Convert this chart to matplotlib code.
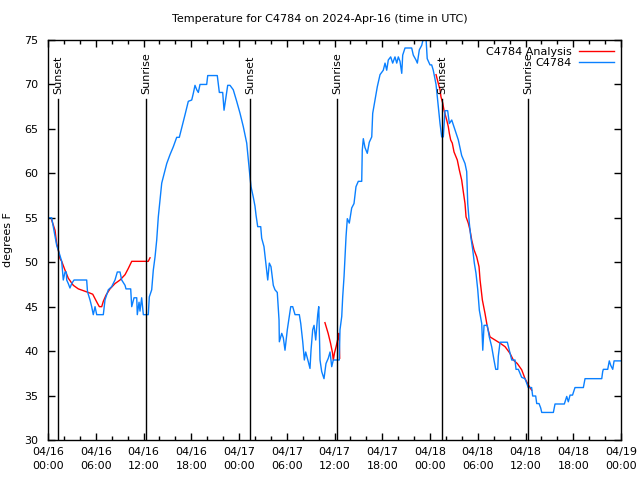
import matplotlib
matplotlib.use("Agg")
import matplotlib.pyplot as plt
from matplotlib.ticker import MultipleLocator

plt.rcParams['font.family'] = ['DejaVu Sans']

# ---- data (hours since 2024-04-16 00:00 UTC, degrees F) ----
obs_hours = [0.0, 0.46, 0.75, 1.09, 1.42, 1.72, 1.92, 2.14, 2.30, 2.35, 2.55, 2.76, 2.98, 3.27,
             4.86, 4.96, 5.28, 5.49, 5.69, 5.91, 6.12, 6.95, 7.16, 7.58, 8.0, 8.42, 8.71, 9.05,
             9.26, 9.68, 9.8, 10.39, 10.52, 10.81, 11.15, 11.22, 11.44, 11.56, 11.77, 11.98,
             12.6, 12.73, 13.03, 13.23, 13.45, 13.66, 13.86, 14.07, 14.29, 14.49, 14.92, 15.33,
             15.75, 16.17, 16.5, 16.8, 17.22, 17.63, 18.06, 18.26, 18.47, 18.69, 18.89, 19.1,
             19.94, 20.07, 21.27, 21.53, 21.95, 22.12, 22.37, 22.58, 22.87, 23.28, 23.71, 24.13,
             24.54, 24.97, 25.17, 25.38, 25.51, 25.8, 26.01, 26.14, 26.35, 26.73, 26.85, 27.14,
             27.31, 27.48, 27.61, 27.81, 28.02, 28.31, 28.52, 28.81, 29.03, 29.07, 29.37, 29.57,
             29.78, 30.07, 30.32, 30.5, 30.75, 31.04, 31.58, 31.76, 32.01, 32.21, 32.38, 32.71,
             32.92, 33.05, 33.26, 33.43, 33.64, 33.89, 34.02, 34.18, 34.39, 34.68, 34.93, 35.22,
             35.44, 35.65, 35.85, 36.6, 36.69, 36.91, 37.03, 37.2, 37.32, 37.45, 37.61, 37.86,
             38.16, 38.45, 38.7, 38.99, 39.42, 39.49, 39.62, 39.83, 40.12, 40.37, 40.68, 40.8,
             41.09, 41.38, 41.72, 42.13, 42.35, 42.56, 42.76, 43.06, 43.31, 43.6, 43.82, 44.02,
             44.23, 44.45, 44.57, 44.86, 45.7, 45.9, 46.24, 46.41, 46.66, 46.96, 47.25, 47.5,
             47.65, 48.0, 48.21, 48.41, 48.76, 49.05, 49.26, 49.47, 49.67, 49.89, 50.22, 50.43,
             50.73, 51.14, 51.56, 51.98, 52.4, 52.61, 52.74, 52.94, 53.12, 53.37, 53.57, 53.78,
             54.0, 54.2, 54.5, 54.63, 54.79, 55.2, 55.45, 55.75, 56.04, 56.26, 56.51, 56.58,
             56.8, 57.72, 57.97, 58.27, 58.68, 58.81, 59.1, 59.31, 59.52, 59.94, 60.15, 60.35,
             60.77, 60.9, 61.28, 61.41, 61.7, 61.91, 62.04, 63.5, 63.71, 64.88, 65.18, 65.38,
             65.6, 65.91, 66.22, 67.27, 67.48, 69.58, 69.7, 69.78, 70.33, 70.53, 70.71, 70.96,
             71.13, 71.34, 72.0]
obs_temps = [55.0, 55.0, 53.6, 51.9, 51.0, 50.1, 48.0, 48.9, 48.9, 48.0, 47.6, 47.1, 47.6, 48.0,
             48.0, 46.7, 45.75, 45.0, 44.1, 45.0, 44.1, 44.1, 45.75, 46.9, 47.25, 48.0, 48.9, 48.9,
             48.0, 47.4, 47.0, 47.0, 45.0, 46.0, 46.0, 44.1, 45.5, 44.5, 46.0, 44.1,
             44.1, 46.1, 46.9, 49.1, 50.6, 52.5, 55.1, 57.0, 58.9, 59.6, 61.1, 62.1,
             63.0, 64.05, 64.05, 65.1, 66.6, 68.1, 68.25, 69.0, 69.9, 69.4, 69.1, 70.0,
             70.0, 71.0, 71.0, 69.1, 69.1, 67.1, 68.6, 69.9, 69.9, 69.4, 68.1, 66.75,
             65.25, 63.4, 61.5, 59.6, 58.5, 57.3, 56.3, 55.3, 54.0, 54.0, 52.7, 51.75,
             50.4, 49.1, 48.0, 49.9, 49.5, 47.4, 46.9, 46.6, 43.5, 41.05, 42.0, 41.5,
             40.1, 42.4, 43.9, 45.0, 45.0, 44.1, 44.1, 43.1, 41.05, 39.0, 39.9, 38.8,
             38.05, 40.1, 42.4, 42.9, 41.25, 44.1, 45.0, 39.0, 37.7, 36.9, 38.6, 39.2,
             39.9, 38.25, 39.0, 39.0, 42.4, 43.9, 46.1, 48.4, 50.6, 52.9, 54.9, 54.4,
             56.1, 56.6, 58.5, 59.1, 59.1, 62.6, 63.9, 62.9, 62.25, 63.5, 64.1, 66.75,
             68.25, 69.75, 71.1, 71.6, 72.4, 71.6, 72.75, 73.1, 72.4, 73.1, 72.4, 73.1,
             72.6, 71.25, 73.3, 74.1, 74.1, 73.3, 72.75, 72.4, 73.9, 74.4, 75.5, 75.2,
             72.9, 72.2, 72.2, 71.6, 70.0, 67.5, 65.6, 64.1, 64.1, 67.05, 67.05, 65.6,
             66.0, 64.9, 63.75, 62.0, 61.1, 60.2, 56.6, 54.4, 52.9, 51.4, 49.9, 48.75,
             46.9, 44.6, 43.1, 40.1, 42.9, 42.9, 41.6, 40.5, 39.0, 37.95, 37.95, 39.4,
             41.0, 41.0, 40.1, 39.0, 39.0, 37.95, 37.95, 37.5, 37.05, 36.9, 36.4, 35.9,
             35.9, 34.95, 34.95, 34.1, 34.1, 33.6, 33.1, 33.1, 34.05, 34.05, 34.9, 34.3,
             35.05, 35.05, 35.9, 35.9, 36.9, 36.9, 37.7, 37.95, 37.95, 38.9, 38.4, 37.95,
             38.9, 38.9, 38.9]

ana1_hours = [0.46, 0.88, 1.09, 1.29, 1.51, 1.72, 2.14, 2.55, 3.18, 3.81, 4.44, 5.06, 5.62,
              5.91, 6.2, 6.45, 6.75, 6.95, 7.29, 7.79, 8.42, 9.05, 9.68, 10.09, 10.52, 12.6, 12.82]
ana1_temps = [54.75, 53.6, 52.1, 51.4, 50.4, 50.1, 49.1, 48.2, 47.4, 47.0, 46.8, 46.6, 46.4,
              45.9, 45.4, 45.0, 45.0, 45.6, 46.3, 47.0, 47.6, 48.0, 48.6, 49.3, 50.1, 50.1, 50.5]

ana2_hours = [34.8, 35.2, 35.5, 35.75, 35.85, 36.0, 36.2, 36.45, 36.55, 36.6, 36.65]
ana2_temps = [43.2, 42.0, 40.9, 39.8, 39.0, 39.8, 40.5, 41.5, 42.0, 41.0, 39.2]

ana3_hours = [48.76, 49.05, 49.26, 49.38, 49.6, 49.76, 50.1, 50.3, 50.43, 50.6, 50.8, 51.02,
              51.43, 51.68, 51.98, 52.19, 52.4, 52.53, 52.81, 53.03, 53.24, 53.53, 53.87, 54.16,
              54.29, 54.58, 54.91, 55.2, 55.54, 56.17, 56.8, 57.43, 58.05, 58.47, 58.97, 59.52,
              59.94, 60.35, 60.78]
ana3_temps = [71.1, 70.1, 69.4, 68.6, 67.9, 67.1, 66.0, 65.25, 64.5, 63.75, 63.4, 62.4,
              61.5, 60.4, 59.25, 57.9, 56.6, 55.1, 54.4, 53.6, 52.5, 51.4, 50.6, 49.5,
              48.0, 45.75, 44.25, 42.75, 41.6, 41.25, 40.9, 40.5, 39.75, 39.0, 38.6, 37.9,
              36.9, 36.2, 35.6]

sun_hours = [1.3, 12.3, 25.4, 36.35, 49.5, 60.35]
sun_labels = ["Sunset", "Sunrise", "Sunset", "Sunrise", "Sunset", "Sunrise"]

xtick_hours = [0, 6, 12, 18, 24, 30, 36, 42, 48, 54, 60, 66, 72]
xtick_labels = ["04/16\n00:00", "04/16\n06:00", "04/16\n12:00", "04/16\n18:00",
                "04/17\n00:00", "04/17\n06:00", "04/17\n12:00", "04/17\n18:00",
                "04/18\n00:00", "04/18\n06:00", "04/18\n12:00", "04/18\n18:00",
                "04/19\n00:00"]
ytick_vals = [30, 35, 40, 45, 50, 55, 60, 65, 70, 75]

title = "Temperature for C4784 on 2024-Apr-16 (time in UTC)"

# ---- figure ----
fig = plt.figure(figsize=(6.4, 4.8), dpi=100)
ax = fig.add_axes([48/640, 40/480, (621-48)/640, 400/480])

red = '#ff0000'
blue = '#0a80ff'

ax.plot(ana1_hours, ana1_temps, color=red, lw=1.0, label='C4784 Analysis')
ax.plot(ana2_hours, ana2_temps, color=red, lw=1.0)
ax.plot(ana3_hours, ana3_temps, color=red, lw=1.0)
ax.plot(obs_hours, obs_temps, color=blue, lw=1.0, label='C4784')

for h, lab in zip(sun_hours, sun_labels):
    ax.plot([h, h], [30, 68.4], color='black', lw=1.0)
    ax.text(h, 68.9, lab, rotation=90, ha='center', va='bottom', fontsize=8)

ax.set_xlim(0, 72)
ax.set_ylim(30, 75)
ax.set_xticks(xtick_hours)
ax.set_xticklabels(xtick_labels, linespacing=1.45)
ax.xaxis.set_minor_locator(MultipleLocator(2))
ax.set_yticks(ytick_vals)
ax.tick_params(axis='both', which='major', direction='in', length=5, width=1,
               top=True, right=True, labelsize=8, pad=5)
ax.tick_params(axis='both', which='minor', direction='in', length=3, width=1,
               top=True, right=True)
ax.tick_params(axis='y', which='major', pad=7)
for s in ax.spines.values():
    s.set_linewidth(1.0)

ax.set_ylabel("degrees F", fontsize=8, labelpad=8)
fig.text(0.5, 1 - 19/480, title, ha='center', va='center', fontsize=8)

leg = ax.legend(loc='upper right', frameon=False, markerfirst=False, fontsize=8,
                handlelength=3.2, borderaxespad=0.2, labelspacing=0.15, handletextpad=0.6)
for t in leg.get_texts():
    t.set_ha('right')

fig.savefig("out.png", dpi=100)
